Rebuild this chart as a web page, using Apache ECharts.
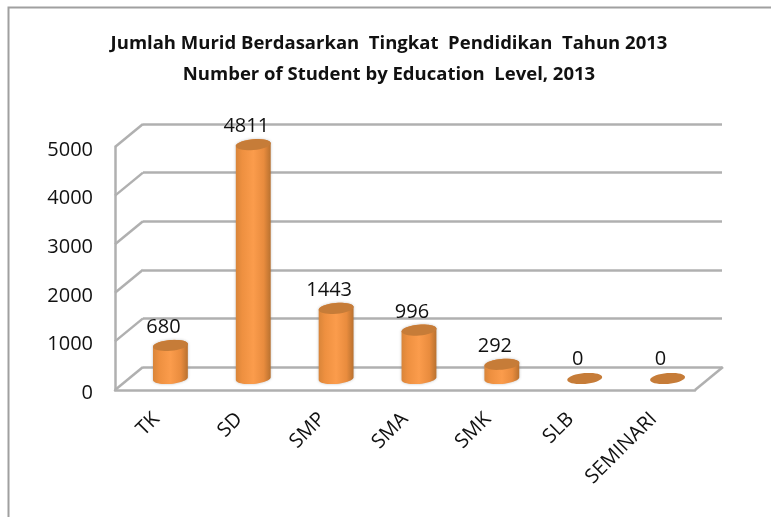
<!DOCTYPE html>
<html><head><meta charset="utf-8">
<style>html,body{margin:0;padding:0;background:#fff}#c{width:771px;height:517px}</style>
<script src="https://cdn.jsdelivr.net/npm/echarts@6/dist/echarts.min.js"></script>
</head><body><div id="c"></div>
<script>
var categories = ['TK','SD','SMP','SMA','SMK','SLB','SEMINARI'];
var values = [680,4811,1443,996,292,0,0];
var yTicks = [0,1000,2000,3000,4000,5000];
var titleLines = ['Jumlah Murid Berdasarkan  Tingkat  Pendidikan  Tahun 2013','Number of Student by Education  Level, 2013'];

var FONT = '"Open Sans","Noto Sans",sans-serif';
var DEPTH = [28,-23];
var RX = 17.5, RY = 5.4, TILT = -5*Math.PI/180;

function ell(cx,cy,a0,a1,n){
  var p=[],i,t,x,y;
  for(i=0;i<=n;i++){
    t=a0+(a1-a0)*i/n; x=RX*Math.cos(t); y=RY*Math.sin(t);
    p.push([cx+x*Math.cos(TILT)-y*Math.sin(TILT), cy+x*Math.sin(TILT)+y*Math.cos(TILT)]);
  }
  return p;
}
function renderBar(params,api){
  var v=api.value(1);
  var top=api.coord([api.value(0),v]), base=api.coord([api.value(0),0]);
  var dx=DEPTH[0]/2, dy=DEPTH[1]/2;
  var tx=top[0]+dx, ty=top[1]+dy, bx=base[0]+dx, by=base[1]+dy;
  var kids=[];
  if(v>0){
    var body=ell(bx,by,-0.05,Math.PI+0.05,24).concat(ell(tx,ty,Math.PI+0.05,2*Math.PI-0.05,24));
    kids.push({type:'polygon',shape:{points:body},style:{
      fill:{type:'linear',x:0,y:0,x2:1,y2:0,colorStops:[
        {offset:0,color:'#d98539'},{offset:.18,color:'#ee9040'},{offset:.5,color:'#fb9c4c'},{offset:.8,color:'#e98c3e'},{offset:1,color:'#b9712f'}]},
      shadowBlur:3,shadowColor:'rgba(120,120,120,.45)'}});
  }
  kids.push({type:'polygon',shape:{points:ell(tx,ty,0,2*Math.PI,36)},style:{fill:'#c67c38'}});
  kids.push({type:'text',x:tx-7,y:ty-(v>0?18:19),style:{text:String(v),fill:'#111',font:'20px '+FONT,align:'center',verticalAlign:'middle'}});
  return {type:'group',children:kids};
}
var wallStyle={stroke:'#b0b0b0',lineWidth:2.5};
function renderWall(params,api){
  var cs=params.coordSys, y=api.coord([0,api.value(0)])[1];
  return {type:'line',shape:{x1:cs.x,y1:y,x2:cs.x+DEPTH[0],y2:y+DEPTH[1]},style:wallStyle};
}
function renderFloorEdge(params,api){
  var cs=params.coordSys, y=api.coord([0,api.value(0)])[1], r=cs.x+cs.width;
  return {type:'line',shape:{x1:r,y1:y,x2:r+DEPTH[0],y2:y+DEPTH[1]},style:wallStyle};
}
var chart=echarts.init(document.getElementById('c'),null,{renderer:'canvas'});
chart.setOption({
  animation:false,backgroundColor:'#fff',
  title:[
    {text:titleLines[0],left:384,top:29,textAlign:'center',textStyle:{fontFamily:FONT,fontSize:18.5,fontWeight:'bold',color:'#111'}},
    {text:titleLines[1],left:384,top:60,textAlign:'center',textStyle:{fontFamily:FONT,fontSize:18.5,fontWeight:'bold',color:'#111'}}
  ],
  graphic:[{type:'rect',left:6,top:5,shape:{width:800,height:560},style:{fill:'none',stroke:'#a0a0a0',lineWidth:2},silent:true}],
  grid:[
    {left:115,right:76,top:147,bottom:127},
    {left:143,right:49,top:124,bottom:150}
  ],
  xAxis:[
    {type:'category',gridIndex:0,data:categories,boundaryGap:true,
      axisLine:{show:true,lineStyle:{color:'#b0b0b0',width:2.5}},axisTick:{show:false},
      axisLabel:{rotate:45,margin:26,interval:0,color:'#111',fontFamily:FONT,fontSize:20}},
    {type:'category',gridIndex:1,data:categories,show:false}
  ],
  yAxis:[
    {type:'value',gridIndex:0,min:0,max:5000,interval:1000,
      axisLine:{show:true,lineStyle:{color:'#b0b0b0',width:2.5}},axisTick:{show:false},splitLine:{show:false},
      axisLabel:{margin:22,color:'#111',fontFamily:FONT,fontSize:20,verticalAlign:'top',lineHeight:6,formatter:function(v){return String(v);}}},
    {type:'value',gridIndex:1,min:0,max:5000,interval:1000,
      axisLine:{show:false},axisTick:{show:false},axisLabel:{show:false},
      splitLine:{show:true,lineStyle:{color:'#b0b0b0',width:2.5}}}
  ],
  series:[
    {type:'custom',xAxisIndex:0,yAxisIndex:0,clip:false,silent:true,renderItem:renderWall,data:yTicks.map(function(v){return [v];}),encode:{y:0}},
    {type:'custom',xAxisIndex:0,yAxisIndex:0,clip:false,silent:true,renderItem:renderFloorEdge,data:[[0]],encode:{y:0}},
    {type:'custom',xAxisIndex:0,yAxisIndex:0,clip:false,silent:true,renderItem:renderBar,
      data:values.map(function(v,i){return [i,v];}),encode:{x:0,y:1},z:5}
  ]
});
</script></body></html>
